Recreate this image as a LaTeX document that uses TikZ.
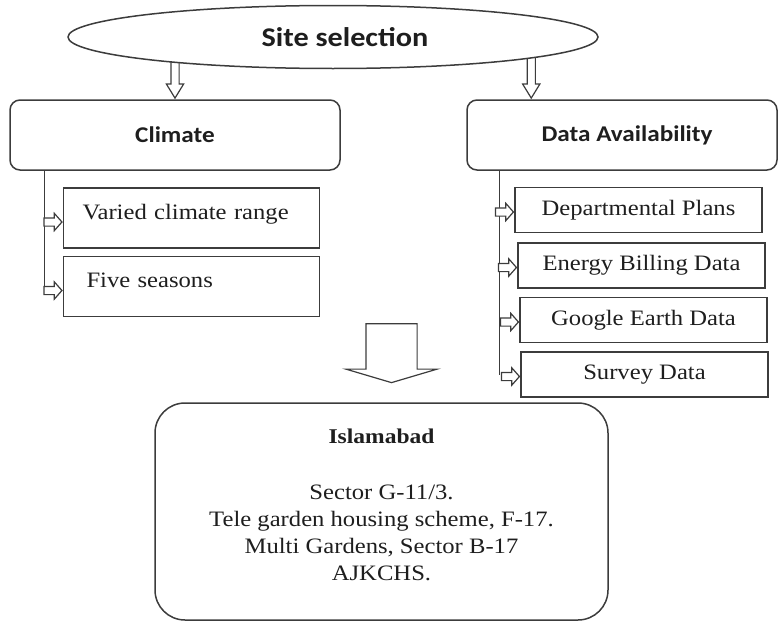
\documentclass[tikz,border=0pt]{standalone}
\usepackage{fontspec}
\setmainfont{Liberation Serif}[FakeStretch=1.12]
\newfontfamily\headfont{Carlito}[FakeStretch=1.12]
\usetikzlibrary{shapes.geometric,shapes.arrows,positioning,calc}

\definecolor{edgegray}{HTML}{3C3C3C}
\definecolor{inkgray}{HTML}{1E1E1E}

\tikzset{
  boxline/.style={draw=edgegray, line width=1.5pt},
  headbox/.style={boxline, rounded corners=10pt, minimum height=70pt, inner sep=0pt,
    text=inkgray, font=\headfont\bfseries\fontsize{22.5}{26}\selectfont},
  itembox/.style={boxline, minimum width=247pt, minimum height=45pt, inner sep=0pt,
    text=inkgray, font=\fontsize{22}{27}\selectfont},
  climbox/.style={boxline, text width=218pt, align=left, inner xsep=19pt, inner ysep=0pt,
    text height=31pt, text depth=29pt, text=inkgray, font=\fontsize{22}{27}\selectfont},
  hollowarrow/.style={single arrow, boxline, line width=1.2pt, fill=white,
    single arrow head indent=0pt},
  downarrow/.style={hollowarrow, shape border rotate=270, minimum height=45pt, inner sep=3.5pt,
    minimum width=16pt, single arrow head extend=4.5pt, single arrow tip angle=63},
  sidearrow/.style={hollowarrow, minimum height=18pt, minimum width=16pt, inner sep=3.5pt,
    single arrow head extend=4.5pt, single arrow tip angle=97}
}

\begin{document}
\begin{tikzpicture}[x=1pt, y=-1pt]
\useasboundingbox (0,0) rectangle (779,621);

% two branches
\node[headbox, minimum width=330pt] (climate) at (175,135) {Climate};
\node[headbox, minimum width=310pt] (data) at (622,135) {\hspace*{10pt}Data Availability};

% arrows out of the ellipse
\node[downarrow, anchor=tip] (toclimate) at (climate.north) {};
\node[downarrow, anchor=tip] (todata) at ($(data.north west)+(65,0)$) {};

\node[ellipse, boxline, fill=white, minimum width=530pt, minimum height=63pt, inner sep=0pt,
  text=inkgray, font=\headfont\bfseries\fontsize{27}{30}\selectfont] (site) at (333,37)
  {\hspace*{24pt}Site selection};

% climate items
\node[climbox] (varied) at (191.5,218) {Varied climate range};
\node[climbox, below=7pt of varied] (seasons) {\hspace*{4pt}Five seasons};

\draw[boxline] ($(climate.south west)+(35,0)$) coordinate (cltrunk)
  -- ($(cltrunk |- seasons.west)+(0,4)$);
\foreach \item in {varied, seasons}
  \node[sidearrow, anchor=tip] at ($(\item.west)+(0,4)$) {};

% data items
\node[itembox] (plans) at (638.5,210) {Departmental Plans};
\node[itembox, below=9pt of plans, xshift=3pt] (billing) {Energy Billing Data};
\node[itembox, below=8pt of billing, xshift=2pt] (earth) {Google Earth Data};
\node[itembox, below=8pt of earth, xshift=1pt] (survey) {Survey Data};

\draw[boxline] ($(data.south west)+(33,0)$) coordinate (datrunk)
  -- (datrunk |- survey.west);
\foreach \item in {plans, billing, earth, survey}
  \node[sidearrow, anchor=tip] at ($(\item.west)+(0,2)$) {};

% result
\node[boxline, rounded corners=30pt, minimum width=453pt, minimum height=217pt] (isl)
  at (381.5,511.5) {};
\node[hollowarrow, shape border rotate=270, minimum height=53pt, minimum width=90pt,
  inner sep=25pt, single arrow head extend=20pt, single arrow tip angle=147, anchor=tip]
  (toisl) at ($(isl.north)+(10,-19)$) {};
\node[below=26pt of isl.north, text=inkgray, font=\bfseries\fontsize{21}{27}\selectfont,
  inner sep=0pt] (islname) {Islamabad};
\node[below=41pt of islname, align=center, text=inkgray, inner sep=0pt,
  font=\fontsize{22}{27}\selectfont] (islsites)
  {Sector G-11/3.\\ Tele garden housing scheme, F-17.\\ Multi Gardens, Sector B-17\\ AJKCHS.};
\end{tikzpicture}
\end{document}
